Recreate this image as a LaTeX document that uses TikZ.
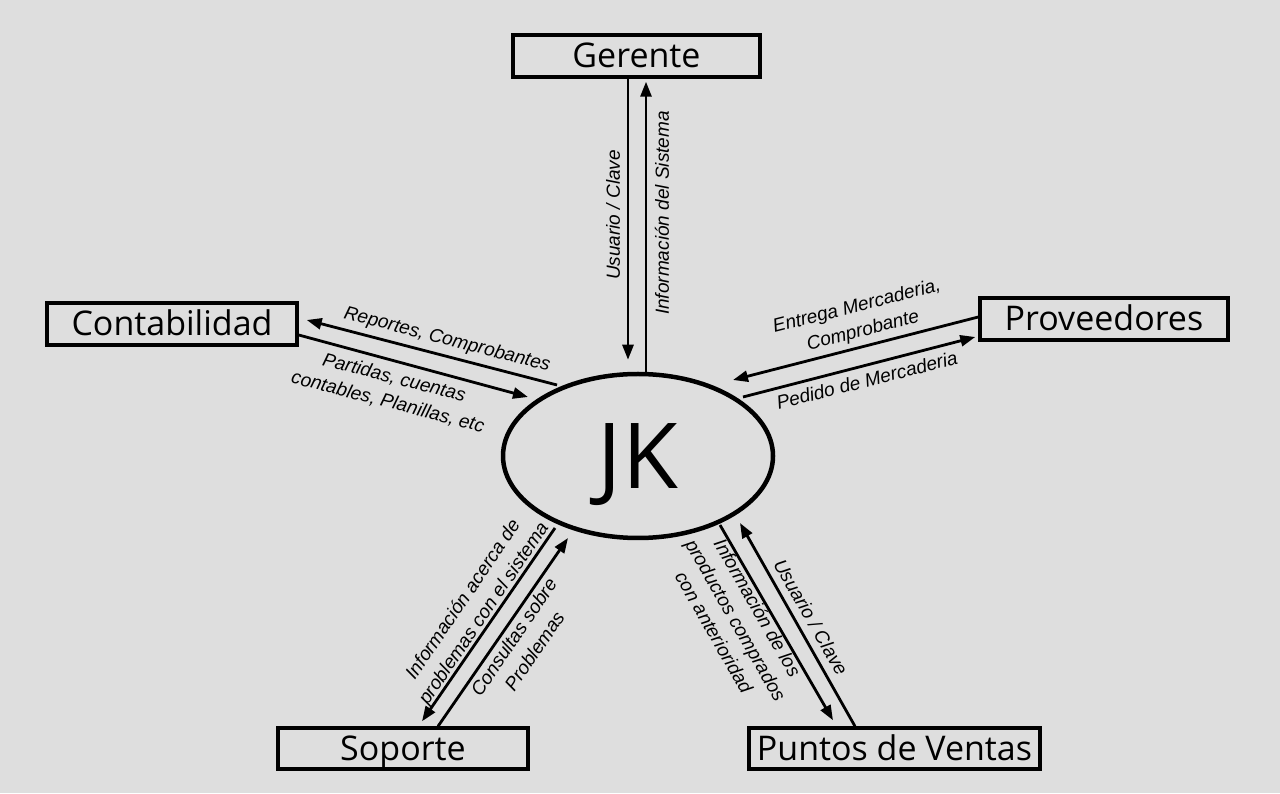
\documentclass[tikz,border=0pt]{standalone}
\usepackage{fontspec}
\setmainfont{Liberation Sans}
\newfontfamily\boxfont{Open Sans}
\usetikzlibrary{arrows.meta,shapes.geometric}
\definecolor{bg}{RGB}{222,222,222}
\begin{document}
\begin{tikzpicture}[x=1pt,y=1pt,
  entity/.style={draw, line width=3.4pt, inner sep=0pt, text height=24pt, text depth=0pt,
    font=\boxfont\fontsize{34}{34}\selectfont},
  flow/.style={line width=2.8pt, -{Triangle[length=15pt,width=11pt]}},
  lbl/.style={font=\itshape\fontsize{19}{25}\selectfont, align=center, inner sep=0pt}]
\fill[bg] (0,0) rectangle (1280,793);
\useasboundingbox (0,0) rectangle (1280,793);

% entities
\node[entity, minimum width=247pt, minimum height=42pt] (G)  at (636.5,737) {Gerente};
\node[entity, minimum width=250pt, minimum height=42pt] (C)  at (172,469)   {Contabilidad};
\node[entity, minimum width=248pt, minimum height=42pt] (P)  at (1104,474)  {Proveedores};
\node[entity, minimum width=250pt, minimum height=41pt] (S)  at (403,44.5)  {Soporte};
\node[entity, minimum width=291pt, minimum height=41pt] (PV) at (894.5,44.5) {Puntos de Ventas};
\node[draw, ellipse, line width=4.5pt, minimum width=270pt, minimum height=164pt, inner sep=0pt,
      text height=65pt, text depth=0pt, font=\boxfont\fontsize{91}{91}\selectfont] (JK) at (638,337) {JK};

% Gerente
\draw[flow] ([xshift=-8.5pt]G.south) -- ([xshift=-10pt,yshift=12pt]JK.north);
\draw[flow] ([shift={(8pt,-2pt)}]JK.north) -- ([shift={(9.5pt,-3pt)}]G.south);
\node[lbl, rotate=90] (lg1) at (613,578) {Usuario / Clave};
\node[lbl, rotate=90] (lg2) at (662,580) {Información del Sistema};

% Contabilidad
\draw[flow] ([shift={(-81pt,71pt)}]JK.center) -- ([shift={(8pt,4pt)}]C.east);
\draw[flow] ([yshift=-11pt]C.east) -- ([shift={(-110pt,59pt)}]JK.center);
\node[lbl, rotate=-14.5] (lc1) at (447,453) {Reportes, Comprobantes};
\node[lbl, rotate=-14.5] (lc2) at (391,403) {Partidas, cuentas\\contables, Planillas, etc};

% Proveedores
\draw[flow] ([yshift=2pt]P.west) -- ([shift={(95pt,76pt)}]JK.center);
\draw[flow] ([shift={(105pt,59pt)}]JK.center) -- ([shift={(-3pt,-18pt)}]P.west);
\node[lbl, rotate=14.3] (lp1) at (860,474) {Entrega Mercaderia,\\Comprobante};
\node[lbl, rotate=14.3] (lp2) at (867,413) {Pedido de Mercaderia};

% Soporte
\draw[flow] ([shift={(-83pt,-72pt)}]JK.center) -- ([shift={(19pt,5pt)}]S.north);
\draw[flow] ([xshift=35pt]S.north) -- ([shift={(-70pt,-82pt)}]JK.center);
\node[lbl, rotate=55.7] (ls1) at (474,186) {Información acerca de\\problemas con el sistema};
\node[lbl, rotate=55.7] (ls2) at (524,149) {Consultas sobre\\Problemas};

% Puntos de Ventas
\draw[flow] ([shift={(82pt,-69pt)}]JK.center) -- ([shift={(-61.5pt,6pt)}]PV.north);
\draw[flow] ([xshift=-39.5pt]PV.north) -- ([shift={(102pt,-67pt)}]JK.center);
\node[lbl, rotate=-60.2] (lv1) at (811,176) {Usuario / Clave};
\node[lbl, rotate=-60.2] (lv2) at (736,173) {Información de los\\productos comprados\\con anterioridad};
\end{tikzpicture}
\end{document}
